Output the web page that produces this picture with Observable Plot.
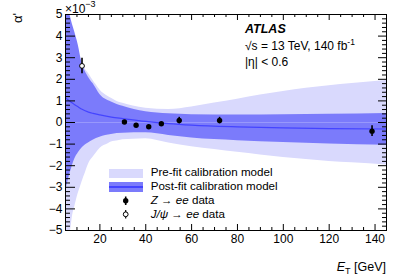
<!DOCTYPE html>
<html>
<head>
<meta charset="utf-8">
<script src="https://cdn.jsdelivr.net/npm/d3@7"></script>
<script src="https://cdn.jsdelivr.net/npm/@observablehq/plot@0.6"></script>
<style>
  html, body { margin: 0; padding: 0; background: #fff; }
  svg text { font-family: "Liberation Sans", Arial, sans-serif; }
</style>
</head>
<body>
<div id="chart"></div>
<script>
// ---- data (alpha' in units of 1e-3, E_T in GeV) ----
const preX  = [5, 7, 9, 11, 13, 15.6, 17, 18.5, 20, 23.6, 28, 34.5, 40, 50, 60, 70, 80, 90, 100, 110, 120, 130, 145];
const preHi = [5.5, 4.6, 3.8, 3.1, 2.6, 2.18, 1.95, 1.72, 1.5, 1.2, 0.95, 0.76, 0.66, 0.6, 0.72, 0.9, 1.08, 1.27, 1.44, 1.58, 1.7, 1.8, 1.95];
const preLoX = [5, 6, 7.2, 8.1, 10.5, 12.7, 15.6, 20, 25, 30, 40, 50, 60, 80, 100, 120, 145];
const preLo  = [-6.5, -5.6, -5.0, -4.3, -3.3, -2.6, -1.8, -1.2, -0.9, -0.8, -0.75, -0.95, -1.12, -1.38, -1.62, -1.8, -1.97];

const postX  = [5, 6, 7, 8, 9, 10.6, 12, 15, 17, 20, 25, 30, 40, 50, 60, 80, 100, 120, 145];
const postHi = [5.6, 5.25, 4.95, 4.55, 4.2, 3.57, 2.85, 2.1, 1.8, 1.3, 0.95, 0.75, 0.5, 0.4, 0.36, 0.35, 0.36, 0.38, 0.42];
const postLo = [-3.2, -2.75, -2.35, -2.0, -1.7, -1.4, -1.2, -0.95, -0.82, -0.68, -0.55, -0.5, -0.48, -0.6, -0.72, -0.84, -0.93, -1.0, -1.05];
const postC  = [1.15, 1.05, 0.97, 0.9, 0.82, 0.72, 0.62, 0.48, 0.42, 0.35, 0.25, 0.18, 0.05, -0.05, -0.12, -0.2, -0.25, -0.28, -0.3];

const zX   = [30.7, 35.8, 41.3, 46.8, 54.6, 72.2, 138.7];
const zY   = [0.02, -0.13, -0.2, -0.06, 0.09, 0.09, -0.4];
const zErr = [0.06, 0.06, 0.06, 0.06, 0.15, 0.15, 0.25];

const jX = [12.2];
const jY = [2.62];
const jErr = [0.36];

const xTickLabels = [20, 40, 60, 80, 100, 120, 140];
const yTickLabels = [-5, -4, -3, -2, -1, 0, 1, 2, 3, 4, 5];

// ---- build tables ----
const gridX = Array.from(new Set([...preX, ...preLoX])).sort((a, b) => a - b);
const interp = (xs, ys) => d3.scaleLinear().domain(xs).range(ys);
const fHi = interp(preX, preHi), fLo = interp(preLoX, preLo);
const pre = gridX.map(x => ({x, hi: fHi(x), lo: fLo(x)}));
const post = postX.map((x, i) => ({x, hi: postHi[i], lo: postLo[i], c: postC[i]}));
const zData = zX.map((x, i) => ({x, y: zY[i], e: zErr[i]}));
const jData = jX.map((x, i) => ({x, y: jY[i], e: jErr[i]}));

const xMinor = d3.range(5, 146, 5).filter(v => v % 20 !== 0);
const yMinor = d3.range(-50, 51, 2).map(v => v / 10).filter(v => Math.abs(v - Math.round(v)) > 1e-6);

const W = 407, H = 277;
const mL = 65, mR = 21, mT = 14, mB = 47;
const pw = W - mL - mR, ph = H - mT - mB;

const light = "#d9d9fd";
const dark = "#7b7bfb";
const lineC = "#4444ff";
const curve = "monotone-x";

const plot = Plot.plot({
  width: W, height: H,
  marginLeft: mL, marginRight: mR, marginTop: mT, marginBottom: mB,
  style: {fontSize: "12px", fontFamily: "'Liberation Sans', Arial, sans-serif", background: "#fff"},
  x: {domain: [5, 145], label: null},
  y: {domain: [-5, 5], label: null},
  marks: [
    Plot.areaY(pre, {x: "x", y1: "lo", y2: "hi", fill: light, curve, clip: true}),
    Plot.areaY(post, {x: "x", y1: "lo", y2: "hi", fill: dark, curve, clip: true}),
    Plot.ruleY([0], {stroke: "#a5a5fc", strokeWidth: 0.7}),
    Plot.line(post, {x: "x", y: "c", stroke: lineC, strokeWidth: 1.2, curve, clip: true}),
    Plot.ruleX(zData, {x: "x", y1: d => d.y - d.e, y2: d => d.y + d.e, stroke: "#000", strokeWidth: 1.6}),
    Plot.dot(zData, {x: "x", y: "y", r: 2.7, fill: "#000"}),
    Plot.ruleX(jData, {x: "x", y1: d => d.y - d.e, y2: d => d.y + d.e, stroke: "#000", strokeWidth: 1.6}),
    Plot.dot(jData, {x: "x", y: "y", r: 2.4, fill: "#fff", stroke: "#000", strokeWidth: 1}),
    // ticks (inward)
    Plot.tickX(xTickLabels, {x: d => d, insetTop: ph - 6, stroke: "#000"}),
    Plot.tickX(xTickLabels, {x: d => d, insetBottom: ph - 6, stroke: "#000"}),
    Plot.tickX(xMinor, {x: d => d, insetTop: ph - 3, stroke: "#000"}),
    Plot.tickX(xMinor, {x: d => d, insetBottom: ph - 3, stroke: "#000"}),
    Plot.tickY(yTickLabels, {y: d => d, insetRight: pw - 10, stroke: "#000"}),
    Plot.tickY(yTickLabels, {y: d => d, insetLeft: pw - 8, stroke: "#000"}),
    Plot.tickY(yMinor, {y: d => d, insetRight: pw - 5, stroke: "#000"}),
    Plot.tickY(yMinor, {y: d => d, insetLeft: pw - 4, stroke: "#000"}),
    Plot.axisX({ticks: xTickLabels, tickSize: 0, tickPadding: 4, label: null, fontSize: 12}),
    Plot.axisY({ticks: yTickLabels, tickSize: 0, tickPadding: 3, label: null, fontSize: 12,
      tickFormat: d => d < 0 ? "\u2212" + (-d) : String(d)}),
    Plot.frame({stroke: "#000", strokeWidth: 1})
  ]
});

document.getElementById("chart").appendChild(plot);
const svg = d3.select(plot);
const ff = "'Liberation Sans', Arial, sans-serif";
const txt = (x, y, size, anchor = "start") => svg.append("text").attr("x", x).attr("y", y)
  .attr("font-size", size).attr("font-family", ff).attr("text-anchor", anchor).attr("fill", "#000");

// y axis title and exponent
svg.append("text").attr("transform", "translate(22,13) rotate(-90)")
  .attr("text-anchor", "end").attr("font-size", 13).attr("font-family", ff).text("\u03b1'");
const exp = txt(65, 13, 12);
exp.append("tspan").text("\u00d710");
exp.append("tspan").attr("dy", -6).attr("font-size", 9).text("\u22123");

// x axis title
const xt = txt(386, 271, 12.5, "end");
xt.append("tspan").attr("font-style", "italic").text("E");
xt.append("tspan").attr("dy", 3).attr("font-size", 9).text("T");
xt.append("tspan").attr("dy", -3).text(" [GeV]");

// ATLAS label
txt(245, 33, 12.5).attr("font-weight", "bold").attr("font-style", "italic").text("ATLAS");
const l2 = txt(245, 49.5, 12);
l2.append("tspan").text("\u221as = 13 TeV, 140 fb");
l2.append("tspan").attr("dy", -5).attr("font-size", 8.5).text("-1");
txt(245, 66, 12).text("|\u03b7| < 0.6");

// legend
const lg = svg.append("g");
lg.append("rect").attr("x", 109).attr("y", 169).attr("width", 34).attr("height", 9).attr("fill", light);
lg.append("rect").attr("x", 109).attr("y", 182).attr("width", 34).attr("height", 10).attr("fill", dark);
lg.append("line").attr("x1", 109).attr("x2", 143).attr("y1", 187).attr("y2", 187).attr("stroke", lineC).attr("stroke-width", 2);
lg.append("line").attr("x1", 125.7).attr("x2", 125.7).attr("y1", 196.5).attr("y2", 205).attr("stroke", "#000").attr("stroke-width", 1.6);
lg.append("circle").attr("cx", 125.7).attr("cy", 200.7).attr("r", 2.7).attr("fill", "#000");
lg.append("line").attr("x1", 125.7).attr("x2", 125.7).attr("y1", 210).attr("y2", 218.5).attr("stroke", "#000").attr("stroke-width", 1.2);
lg.append("circle").attr("cx", 125.7).attr("cy", 214.3).attr("r", 2.4).attr("fill", "#fff").attr("stroke", "#000");
const lt = (y) => txt(150.7, y, 11.6);
lt(176).text("Pre-fit calibration model");
lt(190).text("Post-fit calibration model");
const t3 = lt(204);
t3.append("tspan").attr("font-style", "italic").text("Z");
t3.append("tspan").text(" \u2192 ");
t3.append("tspan").attr("font-style", "italic").text("ee");
t3.append("tspan").text(" data");
const t4 = lt(217.5);
t4.append("tspan").attr("font-style", "italic").text("J/\u03c8");
t4.append("tspan").text(" \u2192 ");
t4.append("tspan").attr("font-style", "italic").text("ee");
t4.append("tspan").text(" data");
</script>
</body>
</html>
